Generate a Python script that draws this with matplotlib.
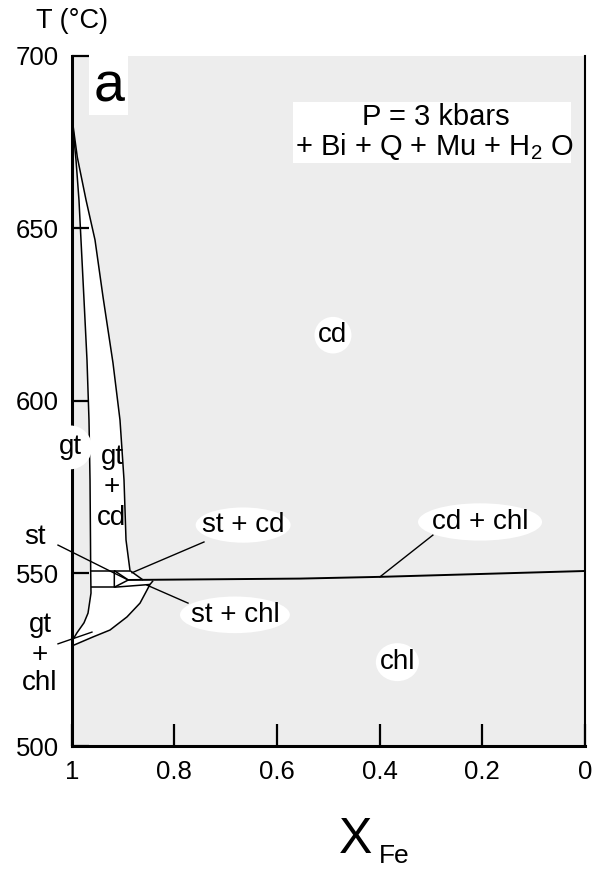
import matplotlib
matplotlib.use("Agg")
import matplotlib.pyplot as plt
from matplotlib.patches import Ellipse, Rectangle, Polygon

plt.rcParams['font.family'] = ['Liberation Sans', 'DejaVu Sans']
plt.rcParams['mathtext.fontset'] = 'custom'
plt.rcParams['mathtext.rm'] = 'Liberation Sans'

# ---- data (X_Fe, T in °C) ----
x_ticks = [1, 0.8, 0.6, 0.4, 0.2, 0]
x_tick_labels = ['1', '0.8', '0.6', '0.4', '0.2', '0']
y_ticks = [500, 550, 600, 650, 700]

# gt / gt+cd boundary (and gt / gt+chl below)
gt_x = [0.9994, 0.9916, 0.9858, 0.9819, 0.9760, 0.9702, 0.9663, 0.9643, 0.9634,
        0.9630, 0.9624, 0.9682, 0.9760, 0.9897, 0.9994]
gt_T = [681.9, 669.7, 658.1, 646.6, 629.2, 611.8, 594.4, 577.1, 559.7,
        550.8, 544.3, 538.5, 535.7, 532.8, 530.4]

# gt+cd / cd boundary
cd_x = [0.9994, 0.9890, 0.9720, 0.9546, 0.9390, 0.9196, 0.9059, 0.8981, 0.8942, 0.8864]
cd_T = [681.9, 670.5, 658.1, 646.6, 630.1, 611.0, 594.4, 577.1, 559.7, 550.8]

# gt+chl upper boundary
chl_x = [0.8414, 0.8475, 0.8669, 0.8923, 0.9254, 0.9585, 0.9994]
chl_T = [547.9, 546.8, 541.4, 537.4, 533.6, 531.6, 529.0]

# isotherms and st field
iso_top_x = [0.9630, 0.8864]
iso_top_T = [550.8, 550.8]
iso_bot_x = [0.9624, 0.9170]
iso_bot_T = [546.0, 546.0]
st_tri_x = [0.9170, 0.8897, 0.9170, 0.9170]
st_tri_T = [550.8, 548.1, 546.0, 550.8]
stcd_x = [0.8864, 0.8610]
stcd_T = [550.8, 548.1]
stchl_x = [0.9170, 0.8475]
stchl_T = [546.0, 546.8]

# cd + chl reaction line
main_x = [0.8897, 0.5552, 0.3995, 0.0]
main_T = [548.1, 548.5, 549.0, 550.7]

# leader lines (start, end)
leaders = {
    'st':       ([1.0267, 0.8903], [558.2, 548.1]),
    'st + cd':  ([0.8825, 0.7423], [550.2, 559.1]),
    'st + chl': ([0.8533, 0.7734], [546.6, 541.4]),
    'cd + chl': ([0.3995, 0.2963], [549.0, 561.1]),
    'gt + chl': ([1.0267, 0.9605], [529.6, 533.0]),
}

# labels: text, x, T, ellipse width, ellipse height
labels = [
    ('cd', 0.491, 619.0, 0.072, 10.6),
    ('chl', 0.3655, 524.3, 0.084, 11.0),
    ('st + cd', 0.666, 564.0, 0.185, 10.2),
    ('st + chl', 0.682, 538.0, 0.214, 10.6),
    ('cd + chl', 0.2045, 564.9, 0.2416, 10.8),
    ('gt', 1.0033, 586.5, 0.0857, 12.7),
]
plain_labels = [
    ('gt', 0.9215, 583.7), ('+', 0.9215, 574.9), ('cd', 0.9215, 566.0),
    ('st', 1.0715, 560.5),
    ('gt', 1.0617, 535.0), ('+', 1.0617, 526.3), ('chl', 1.0617, 518.2),
]

fig = plt.figure(figsize=(5.95, 8.69), dpi=100)
ax = fig.add_axes([0.1205, 0.1415, 0.9832 - 0.1205, 0.9361 - 0.1415])
ax.set_facecolor('#ededed')
ax.set_xlim(1, 0)
ax.set_ylim(500, 700)

# white field
poly_x = gt_x + list(reversed(chl_x)) + [stcd_x[1], stcd_x[0]] + list(reversed(cd_x))
poly_T = gt_T + list(reversed(chl_T)) + [stcd_T[1], stcd_T[0]] + list(reversed(cd_T))
ax.add_patch(Polygon(list(zip(poly_x, poly_T)), closed=True, facecolor='white',
                     edgecolor='none', zorder=1))

lk = dict(color='black', lw=1.1, zorder=2, solid_capstyle='butt')
ax.plot(gt_x, gt_T, **lk)
ax.plot(cd_x, cd_T, **lk)
ax.plot(chl_x, chl_T, **lk)
ax.plot(iso_top_x, iso_top_T, **lk)
ax.plot(iso_bot_x, iso_bot_T, **lk)
ax.plot(st_tri_x, st_tri_T, **lk)
ax.plot(stcd_x, stcd_T, **lk)
ax.plot(stchl_x, stchl_T, **lk)
ax.plot(main_x, main_T, color='black', lw=1.4, zorder=2)
for k, (lx, lT) in leaders.items():
    ax.plot(lx, lT, color='black', lw=1.0, zorder=4, clip_on=False)

fs_lab = 20
for t, x, T, w, h in labels:
    ax.add_patch(Ellipse((x, T), w, h, facecolor='white', edgecolor='none',
                         zorder=5, clip_on=False))
    ax.text(x, T, t, ha='center', va='center', fontsize=fs_lab, zorder=6,
            clip_on=False)
for t, x, T in plain_labels:
    ax.text(x, T, t, ha='center', va='center', fontsize=fs_lab, zorder=6,
            clip_on=False)

# panel letter box
ax.add_patch(Rectangle((0.9663, 682.8), 0.8903 - 0.9663, 700 - 682.8,
                       facecolor='white', edgecolor='none', zorder=5))
ax.text(0.928, 690.8, 'a', ha='center', va='center', fontsize=40, zorder=6)

# conditions box
ax.add_patch(Rectangle((0.5683, 668.8), 0.0266 - 0.5683, 686.5 - 668.8,
                       facecolor='white', edgecolor='none', zorder=5))
ax.text(0.2915, 682.3, 'P = 3 kbars', ha='center', va='center', fontsize=21, zorder=6)
ax.text(0.2935, 673.6, '+ Bi + Q + Mu + H$_2$ O', ha='center', va='center',
        fontsize=21, zorder=6)

# axes styling
for s in ['left', 'bottom']:
    ax.spines[s].set_linewidth(2.2)
ax.spines['right'].set_linewidth(1.5)
ax.spines['top'].set_visible(False)
ax.set_xticks(x_ticks)
ax.set_xticklabels(x_tick_labels)
ax.set_yticks(y_ticks)
ax.tick_params(axis='x', direction='in', length=16, width=1.6, labelsize=18.5, pad=10)
ax.tick_params(axis='y', direction='in', length=12, width=1.6, labelsize=18.5, pad=9)

fig.text(72 / 595, 1 - 21 / 869, 'T (°C)', ha='center', va='center', fontsize=19.5)
fig.text(356 / 595, 1 - 840 / 869, 'X', ha='center', va='center', fontsize=36)
fig.text(394 / 595, 1 - 856 / 869, 'Fe', ha='center', va='center', fontsize=19)

fig.savefig('out.png', dpi=100)
